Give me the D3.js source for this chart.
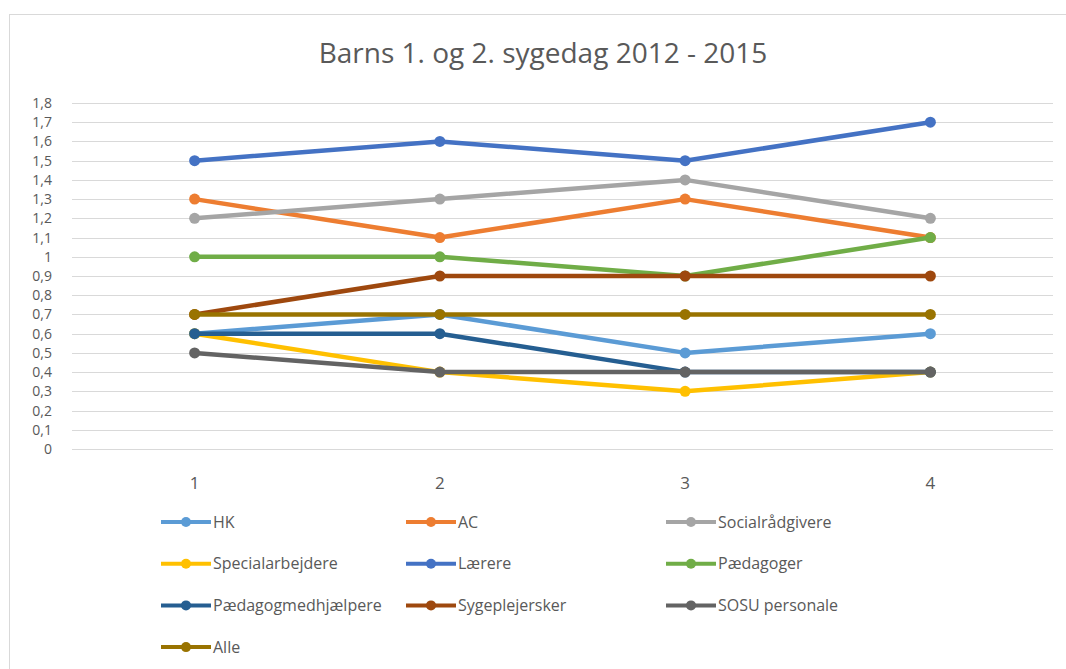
<html lang="da">
  <head>
    <meta charset="UTF-8" />
    <title>Barns 1. og 2. sygedag 2012 - 2015</title>
    <script src="https://d3js.org/d3.v7.min.js"></script>
  </head>
  <style>
    body {
      margin: 0px;
      overflow: hidden;
      background: #fff;
    }
    text {
      font-family: "Liberation Sans Narrow", "Open Sans", sans-serif;
      fill: #595959;
    }
  </style>
  <body>
    <svg width="1066" height="669"></svg>
    <script>
      var categories = ["1", "2", "3", "4"];
      var yTicks = [0, 0.1, 0.2, 0.3, 0.4, 0.5, 0.6, 0.7, 0.8, 0.9, 1, 1.1, 1.2, 1.3, 1.4, 1.5, 1.6, 1.7, 1.8];

      var seriesNames = ["HK", "AC", "Socialrådgivere", "Specialarbejdere", "Lærere", "Pædagoger",
        "Pædagogmedhjælpere", "Sygeplejersker", "SOSU personale", "Alle"];
      var seriesColors = ["#5b9bd5", "#ed7d31", "#a5a5a5", "#ffc000", "#4472c4", "#70ad47",
        "#255e91", "#9e480e", "#636363", "#997300"];

      var hk = [0.6, 0.7, 0.5, 0.6];
      var ac = [1.3, 1.1, 1.3, 1.1];
      var socialraadgivere = [1.2, 1.3, 1.4, 1.2];
      var specialarbejdere = [0.6, 0.4, 0.3, 0.4];
      var laerere = [1.5, 1.6, 1.5, 1.7];
      var paedagoger = [1.0, 1.0, 0.9, 1.1];
      var paedagogmedhjaelpere = [0.6, 0.6, 0.4, 0.4];
      var sygeplejersker = [0.7, 0.9, 0.9, 0.9];
      var sosu = [0.5, 0.4, 0.4, 0.4];
      var alle = [0.7, 0.7, 0.7, 0.7];

      var seriesValues = [hk, ac, socialraadgivere, specialarbejdere, laerere, paedagoger,
        paedagogmedhjaelpere, sygeplejersker, sosu, alle];

      var series = seriesNames.map(function (name, i) {
        return { name: name, color: seriesColors[i], values: seriesValues[i] };
      });

      var svg = d3.select("svg");
      var margin = { left: 72, top: 103, right: 13, bottom: 220 };
      var width = 1066;
      var height = 669;

      // chart frame
      svg.append("rect")
        .attr("x", 9.5).attr("y", 14.5)
        .attr("width", 1070).attr("height", 700)
        .attr("fill", "#fff").attr("stroke", "#d9d9d9");

      svg.append("text")
        .attr("x", 543).attr("y", 63)
        .attr("text-anchor", "middle")
        .style("font-family", "'Open Sans', sans-serif")
        .style("font-size", "28px")
        .text("Barns 1. og 2. sygedag 2012 - 2015");

      var xScale = d3.scaleBand()
        .domain(categories)
        .range([margin.left, width - margin.right]);

      var yScale = d3.scaleLinear()
        .domain([0, 1.8])
        .range([height - margin.bottom, margin.top]);

      // gridlines
      svg.append("g")
        .selectAll("line")
        .data(yTicks)
        .enter()
        .append("line")
        .attr("x1", margin.left)
        .attr("x2", width - margin.right)
        .attr("y1", function (d) { return Math.round(yScale(d)) + 0.5; })
        .attr("y2", function (d) { return Math.round(yScale(d)) + 0.5; })
        .attr("stroke", "#d9d9d9")
        .attr("stroke-width", 1);

      var fmt = function (d) { return String(+d.toFixed(1)).replace(".", ","); };

      var yAxis = svg.append("g")
        .attr("transform", "translate(" + (margin.left - 20) + ",0)")
        .call(d3.axisLeft(yScale).tickValues(yTicks).tickFormat(fmt).tickSize(0).tickPadding(0));
      yAxis.select(".domain").remove();
      yAxis.attr("font-size", null).attr("font-family", null);
      yAxis.selectAll("text").style("font-size", "14px");

      var xAxis = svg.append("g")
        .attr("transform", "translate(0," + (height - margin.bottom + 28) + ")")
        .call(d3.axisBottom(xScale).tickSize(0).tickPadding(0));
      xAxis.select(".domain").remove();
      xAxis.attr("font-size", null).attr("font-family", null);
      xAxis.selectAll("text").style("font-size", "17px");

      var cx = function (d, i) { return xScale(categories[i]) + xScale.bandwidth() / 2; };

      var line = d3.line()
        .x(function (d, i) { return cx(d, i); })
        .y(function (d) { return yScale(d); });

      var groups = svg.append("g")
        .selectAll("g")
        .data(series)
        .enter()
        .append("g");

      groups.append("path")
        .attr("d", function (s) { return line(s.values); })
        .attr("fill", "none")
        .attr("stroke", function (s) { return s.color; })
        .attr("stroke-width", 4.5)
        .attr("stroke-linejoin", "round");

      groups.selectAll("circle")
        .data(function (s) { return s.values.map(function (v) { return { v: v, c: s.color }; }); })
        .enter()
        .append("circle")
        .attr("cx", function (d, i) { return cx(d, i); })
        .attr("cy", function (d) { return yScale(d.v); })
        .attr("r", 5.5)
        .attr("fill", function (d) { return d.c; });

      // legend, 3 columns
      var colX = [161, 406, 666];
      var rowY = 522, rowH = 41.7;
      var legend = svg.append("g")
        .selectAll("g")
        .data(series)
        .enter()
        .append("g")
        .attr("transform", function (s, i) {
          return "translate(" + colX[i % 3] + "," + (rowY + Math.floor(i / 3) * rowH) + ")";
        });
      legend.append("line")
        .attr("x1", 0).attr("x2", 50)
        .attr("stroke", function (s) { return s.color; })
        .attr("stroke-width", 4);
      legend.append("circle")
        .attr("cx", 25).attr("r", 5)
        .attr("fill", function (s) { return s.color; });
      legend.append("text")
        .attr("x", 52).attr("dy", "0.35em")
        .style("font-size", "16px")
        .text(function (s) { return s.name; });
    </script>
  </body>
</html>
